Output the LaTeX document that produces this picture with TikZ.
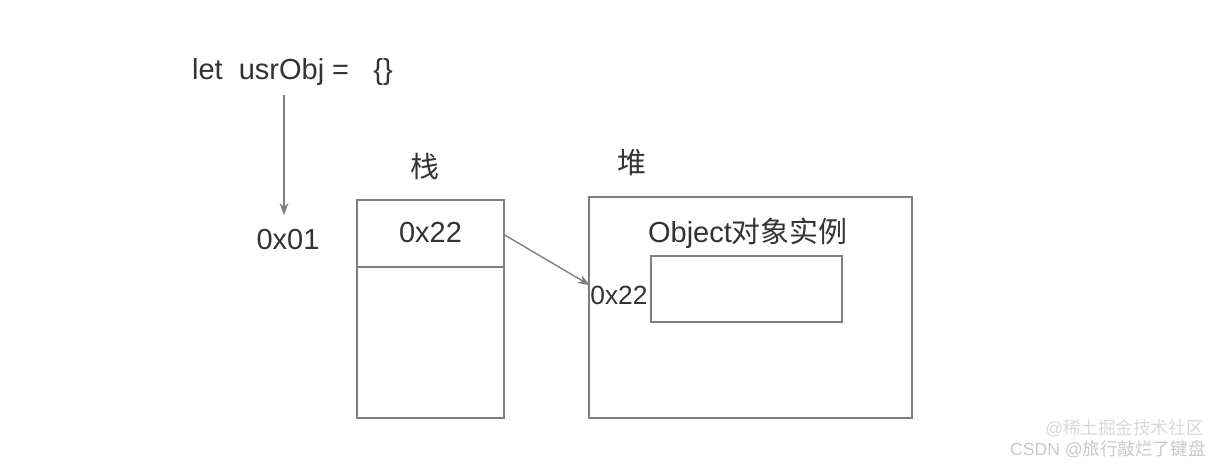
\documentclass[tikz,border=0pt]{standalone}
\usepackage{fontspec}
\usetikzlibrary{arrows.meta}
\setmainfont{Liberation Sans}
\newfontfamily\cjk{Noto Sans CJK SC}
\definecolor{linegray}{HTML}{7F7F7F}
\definecolor{textgray}{HTML}{333333}
\definecolor{markgray}{HTML}{C8C8C8}
\begin{document}
\begin{tikzpicture}[x=0.02cm,y=-0.02cm,>={Stealth[length=7pt,width=5pt]},
  box/.style={draw=linegray,line width=0.8pt,inner sep=0pt},
  lbl/.style={text=textgray,inner sep=1pt,font=\fontsize{16.5}{18}\selectfont},
  arr/.style={->,draw=linegray,line width=0.8pt}]
  \useasboundingbox (0,0) rectangle (1219,465);
  \node[lbl,anchor=west] (decl) at (190,72) {let\ \ usrObj =\ \ \ \{\}};
  \node[lbl] (addr) at (288,240) {0x01};
  \node[lbl] (stacklbl) at (425,166) {\cjk 栈};
  \node[lbl] (heaplbl) at (632,163) {\cjk 堆};

  \node[box,minimum width=2.94cm,minimum height=4.36cm] (stack) at (430.5,309) {};
  \draw[draw=linegray,line width=0.8pt] (stack.west |- 0,267) -- (stack.east |- 0,267);
  \node[lbl] (cell) at (430.5,233) {0x22};

  \node[box,minimum width=6.46cm,minimum height=4.42cm] (heap) at (750.5,307.5) {};
  \node[lbl] (objlbl) at (748,233) {Object{\cjk 对象实例}};
  \node[box,minimum width=3.82cm,minimum height=1.32cm] (inst) at (746.5,289) {};
  \node[lbl,anchor=west,inner sep=0pt,font=\fontsize{15}{17}\selectfont] (ref) at (590,295) {0x22};

  \draw[arr,shorten >=7pt] (284,95) -- (addr.north -| 284,0);
  \draw[arr] (stack.east |- 0,235) -- (ref.north west);

  \node[text=markgray,anchor=east,inner sep=0pt,font=\fontsize{10}{12}\selectfont] (mark) at (1206,449) {CSDN @{\cjk 旅行敲烂了键盘}};
  \node[text=markgray,anchor=east,inner sep=0pt,font=\fontsize{10}{12}\selectfont,opacity=0.7] (mark2) at (1204,428) {@{\cjk 稀土掘金技术社区}};
\end{tikzpicture}
\end{document}
